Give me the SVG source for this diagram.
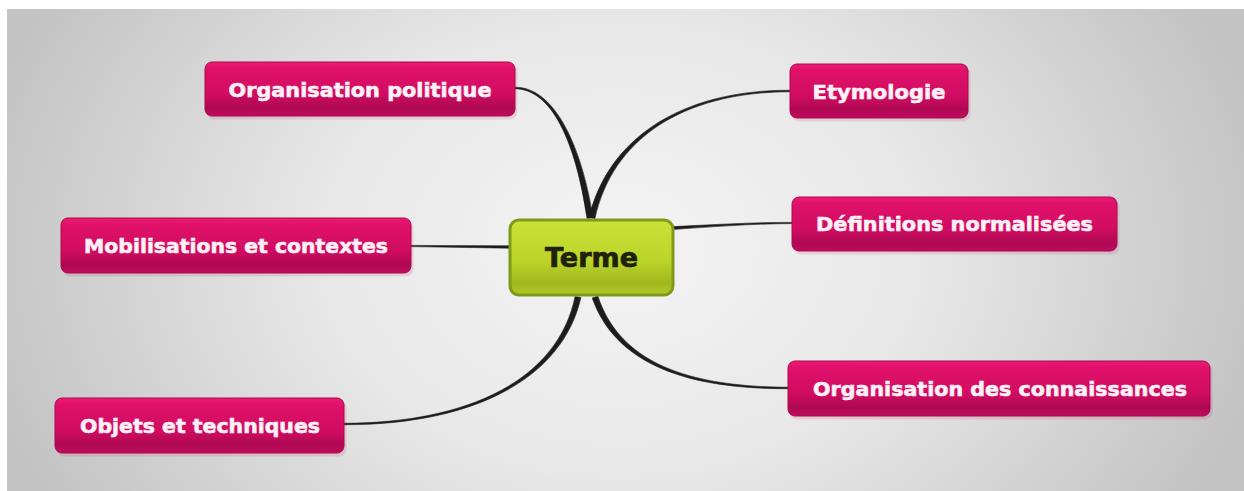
<svg xmlns="http://www.w3.org/2000/svg" width="1244" height="491" viewBox="0 0 1244 491">
<style>
.pk rect{fill:url(#pinkG);stroke:#a9094d;stroke-width:1}
.pk text{font-family:"DejaVu Sans","Verdana",sans-serif;font-weight:bold;font-size:20px;fill:#fdf1f6;stroke:#fdf1f6;stroke-width:0.6;text-anchor:middle}
.gr rect{fill:url(#greenG);stroke:#7f9a1b;stroke-width:3}
.gr text{font-family:"DejaVu Sans","Verdana",sans-serif;font-weight:bold;font-size:26px;fill:#1f220a;stroke:#1f220a;stroke-width:0.7;text-anchor:middle}
.sh{fill:#000;opacity:0.12}
#connectors path{fill:#1c1c1c;stroke:#1c1c1c;stroke-width:0.6;stroke-linejoin:round}
</style>
<defs>
<radialGradient id="bgG" gradientUnits="userSpaceOnUse" cx="620" cy="250" r="660" gradientTransform="translate(620 250) scale(1 0.75) translate(-620 -250)">
<stop offset="0" stop-color="#f4f4f4"/>
<stop offset="0.45" stop-color="#e8e8e8"/>
<stop offset="1" stop-color="#c3c3c3"/>
</radialGradient>
<linearGradient id="pinkG" x1="0" y1="0" x2="0" y2="1">
<stop offset="0" stop-color="#ee1a73"/>
<stop offset="0.12" stop-color="#e0116a"/>
<stop offset="0.6" stop-color="#d00c61"/>
<stop offset="0.85" stop-color="#ae0853"/>
<stop offset="1" stop-color="#c00b5c"/>
</linearGradient>
<linearGradient id="greenG" x1="0" y1="0" x2="0" y2="1">
<stop offset="0" stop-color="#cbe237"/>
<stop offset="0.55" stop-color="#bcd42a"/>
<stop offset="0.85" stop-color="#9fb71d"/>
<stop offset="1" stop-color="#b3cb26"/>
</linearGradient>
</defs>
<rect x="0" y="0" width="1244" height="491" fill="#ffffff"/>
<rect x="7" y="9" width="1237" height="482" fill="url(#bgG)"/>
<g id="connectors">
<path d="M515,87.25 C552,86.9 580.5,139.6 593,217.5 L587,218.5 C575.5,140.4 551.2,89.1 515,88.75 Z"/>
<path d="M594.9,218.7 C612.1,140.5 680.4,92.1 790,91.75 L790,90.25 C679.6,89.9 607.9,139.5 589.1,217.3 Z"/>
<path d="M673,226.6 C710,224.9 750,222.3 792,222.4 L792,223.6 C750,223.7 710,227.1 673,229.4 Z"/>
<path d="M411,245.4 L509,245.8 L509,248.2 L411,246.6 Z"/>
<path d="M575.1,296.4 C557.9,379.5 469.6,422.9 344,423.3 L344,424.7 C470.4,425.1 562.1,380.5 580.9,297.6 Z"/>
<path d="M592.2,298 C617.9,370.7 699.8,389.2 790,388.7 L790,387.3 C700.2,386.8 622.1,369.3 597.8,296 Z"/>
</g>
<g id="node-organisation-politique" class="pk">
<rect class="sh" x="207" y="65" width="310" height="54" rx="7"/>
<rect x="205" y="62" width="310" height="54" rx="7"/>
<text x="360" y="96.5" textLength="263" lengthAdjust="spacingAndGlyphs">Organisation politique</text>
</g>
<g id="node-etymologie" class="pk">
<rect class="sh" x="792" y="67" width="178" height="54" rx="7"/>
<rect x="790" y="64" width="178" height="54" rx="7"/>
<text x="879" y="98.5" textLength="133" lengthAdjust="spacingAndGlyphs">Etymologie</text>
</g>
<g id="node-definitions" class="pk">
<rect class="sh" x="794" y="200" width="325" height="54" rx="7"/>
<rect x="792" y="197" width="325" height="54" rx="7"/>
<text x="954.5" y="231" textLength="277" lengthAdjust="spacingAndGlyphs">Définitions normalisées</text>
</g>
<g id="node-mobilisations" class="pk">
<rect class="sh" x="63" y="221" width="350" height="55" rx="7"/>
<rect x="61" y="218" width="350" height="55" rx="7"/>
<text x="236" y="253" textLength="304" lengthAdjust="spacingAndGlyphs">Mobilisations et contextes</text>
</g>
<g id="node-organisation-connaissances" class="pk">
<rect class="sh" x="790" y="364" width="422" height="55" rx="7"/>
<rect x="788" y="361" width="422" height="55" rx="7"/>
<text x="1000" y="396" textLength="374" lengthAdjust="spacingAndGlyphs">Organisation des connaissances</text>
</g>
<g id="node-objets" class="pk">
<rect class="sh" x="57" y="401" width="289" height="55" rx="7"/>
<rect x="55" y="398" width="289" height="55" rx="7"/>
<text x="200" y="433" textLength="240" lengthAdjust="spacingAndGlyphs">Objets et techniques</text>
</g>
<g id="node-terme" class="gr">
<rect x="510" y="220" width="163" height="75" rx="9"/>
<text x="591.5" y="267" textLength="93" lengthAdjust="spacingAndGlyphs">Terme</text>
</g>
</svg>
